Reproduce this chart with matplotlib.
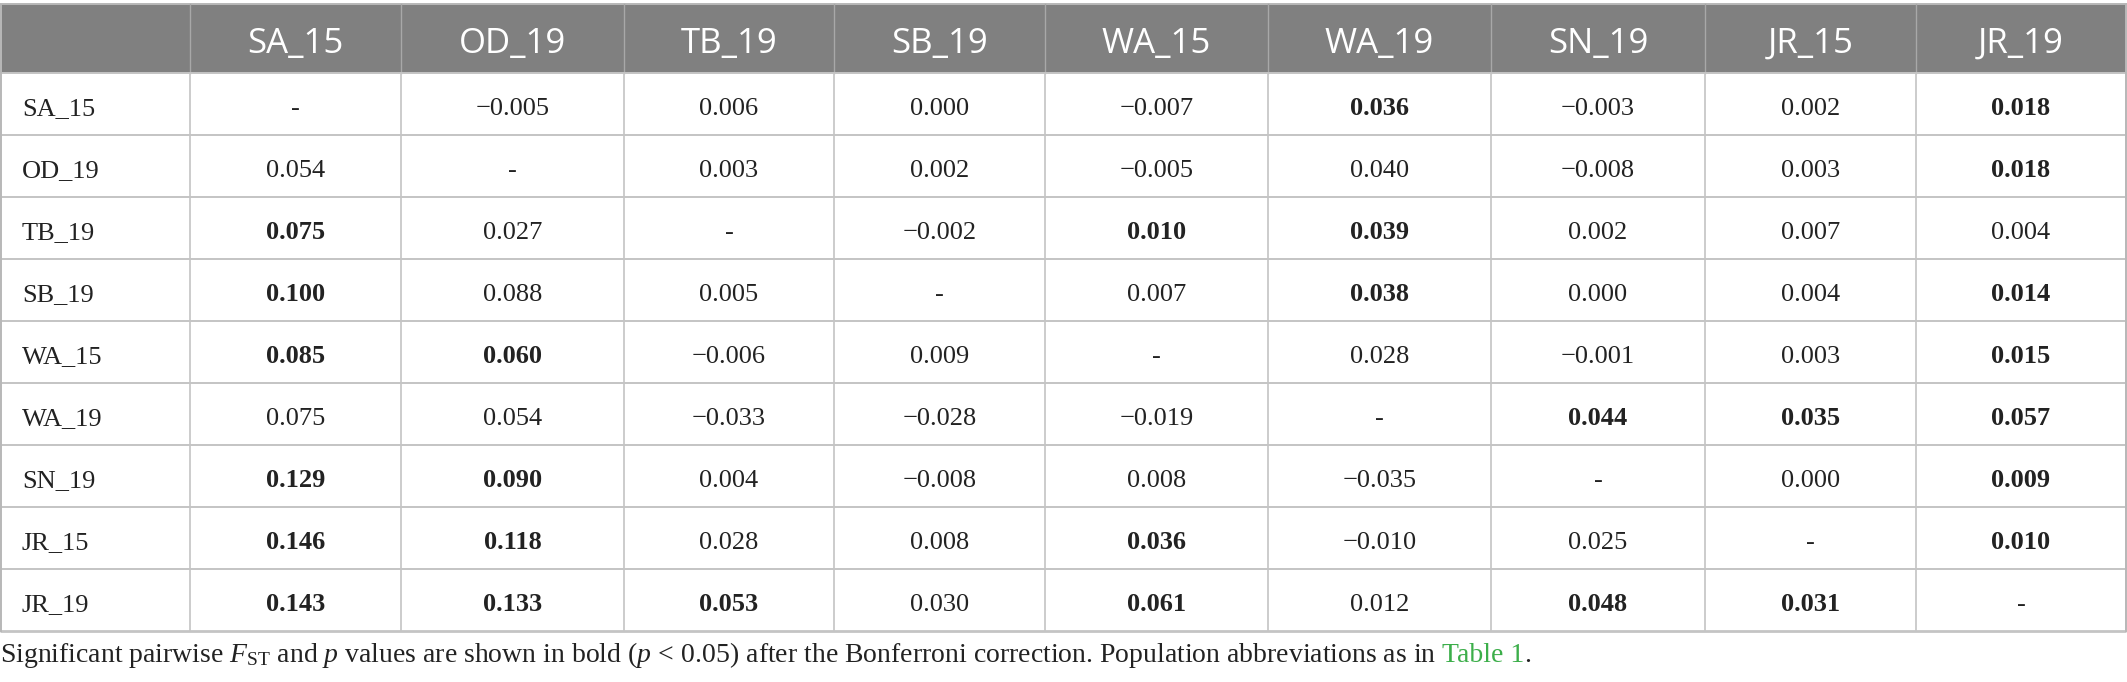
import matplotlib
matplotlib.use("Agg")
import matplotlib.pyplot as plt
from matplotlib.patches import Rectangle

plt.rcParams['mathtext.fontset'] = 'custom'
plt.rcParams['mathtext.rm'] = 'Liberation Serif'
plt.rcParams['mathtext.it'] = 'Liberation Serif:italic'

# ---------------- data ----------------
populations = ["SA_15", "OD_19", "TB_19", "SB_19", "WA_15", "WA_19", "SN_19", "JR_15", "JR_19"]

row_SA_15 = ["-", "\u22120.005", "0.006", "0.000", "\u22120.007", "0.036", "\u22120.003", "0.002", "0.018"]
row_OD_19 = ["0.054", "-", "0.003", "0.002", "\u22120.005", "0.040", "\u22120.008", "0.003", "0.018"]
row_TB_19 = ["0.075", "0.027", "-", "\u22120.002", "0.010", "0.039", "0.002", "0.007", "0.004"]
row_SB_19 = ["0.100", "0.088", "0.005", "-", "0.007", "0.038", "0.000", "0.004", "0.014"]
row_WA_15 = ["0.085", "0.060", "\u22120.006", "0.009", "-", "0.028", "\u22120.001", "0.003", "0.015"]
row_WA_19 = ["0.075", "0.054", "\u22120.033", "\u22120.028", "\u22120.019", "-", "0.044", "0.035", "0.057"]
row_SN_19 = ["0.129", "0.090", "0.004", "\u22120.008", "0.008", "\u22120.035", "-", "0.000", "0.009"]
row_JR_15 = ["0.146", "0.118", "0.028", "0.008", "0.036", "\u22120.010", "0.025", "-", "0.010"]
row_JR_19 = ["0.143", "0.133", "0.053", "0.030", "0.061", "0.012", "0.048", "0.031", "-"]

# 1 = significant (bold)
bold_SA_15 = [0, 0, 0, 0, 0, 1, 0, 0, 1]
bold_OD_19 = [0, 0, 0, 0, 0, 0, 0, 0, 1]
bold_TB_19 = [1, 0, 0, 0, 1, 1, 0, 0, 0]
bold_SB_19 = [1, 0, 0, 0, 0, 1, 0, 0, 1]
bold_WA_15 = [1, 1, 0, 0, 0, 0, 0, 0, 1]
bold_WA_19 = [0, 0, 0, 0, 0, 0, 1, 1, 1]
bold_SN_19 = [1, 1, 0, 0, 0, 0, 0, 0, 1]
bold_JR_15 = [1, 1, 0, 0, 1, 0, 0, 0, 1]
bold_JR_19 = [1, 1, 1, 0, 1, 0, 1, 1, 0]

rows = [row_SA_15, row_OD_19, row_TB_19, row_SB_19, row_WA_15,
        row_WA_19, row_SN_19, row_JR_15, row_JR_19]
bolds = [bold_SA_15, bold_OD_19, bold_TB_19, bold_SB_19, bold_WA_15,
         bold_WA_19, bold_SN_19, bold_JR_15, bold_JR_19]

footnote_main = (r"Significant pairwise $F_{\mathrm{ST}}$ and $p$ values are shown in bold "
                 r"($p\,<\,0.05$) after the Bonferroni correction. Population abbreviations as in")
footnote_link = "Table 1"

# ---------------- layout (pixels) ----------------
W, H = 2127, 682
col_edges = [0, 190, 401, 624, 834, 1045, 1268, 1491, 1705, 1916, 2126]
header_top, header_bot = 4, 73
row_h = 62.0
table_bot = header_bot + row_h * len(rows)

header_color = "#808080"
line_color = "#c4c4c4"
serif = "Liberation Serif"
sans = "Open Sans"
foot_fs = 20

fig = plt.figure(figsize=(W / 100, H / 100), dpi=100)
ax = fig.add_axes([0, 0, 1, 1])
ax.set_xlim(0, W)
ax.set_ylim(H, 0)
ax.axis("off")

# header band
ax.add_patch(Rectangle((col_edges[0], header_top), col_edges[-1] - col_edges[0],
                       header_bot - header_top, facecolor=header_color, edgecolor="none"))
ax.plot([col_edges[0], col_edges[-1]], [header_top, header_top], color="#b8b8b8", lw=1.4)
for x in col_edges[1:-1]:
    ax.plot([x, x], [header_top, header_bot], color="#a8a8a8", lw=1.0)

# header labels
for j, name in enumerate(populations):
    xc = (col_edges[j + 1] + col_edges[j + 2]) / 2
    ax.text(xc, header_bot - 20, name, ha="center", va="baseline",
            fontsize=25, family=sans, color="white")

# grid lines body
for i in range(len(rows) + 1):
    y = header_bot + i * row_h
    lw = 2.0 if i == len(rows) else 1.4
    ax.plot([col_edges[0], col_edges[-1]], [y, y], color=line_color, lw=lw, solid_capstyle="butt")
for x in col_edges:
    ax.plot([x, x], [header_bot, table_bot], color=line_color, lw=1.2)
ax.plot([col_edges[0] + 0.5, col_edges[0] + 0.5], [header_top, table_bot], color="#b8b8b8", lw=1.4)
ax.plot([col_edges[-1], col_edges[-1]], [header_top, table_bot], color="#b8b8b8", lw=1.4)

# body text
for i, (vals, bl) in enumerate(zip(rows, bolds)):
    yb = header_bot + i * row_h + 42
    ax.text(22, yb, populations[i], ha="left", va="baseline",
            fontsize=19, family=serif, color="#222222")
    for j, (v, b) in enumerate(zip(vals, bl)):
        xc = (col_edges[j + 1] + col_edges[j + 2]) / 2
        ax.text(xc, yb, v, ha="center", va="baseline", fontsize=19, family=serif,
                fontweight="bold" if b else "normal", color="#222222")

# footnote
t1 = ax.text(0, 662, footnote_main, ha="left", va="baseline", fontsize=foot_fs,
             family=serif, color="#222222")
fig.canvas.draw()
r = fig.canvas.get_renderer()
bb = t1.get_window_extent(renderer=r)
x_data = ax.transData.inverted().transform((bb.x1, 0))[0] + 6
t2 = ax.text(x_data, 662, footnote_link, ha="left", va="baseline", fontsize=foot_fs,
             family=serif, color="#3cae4a")
fig.canvas.draw()
bb2 = t2.get_window_extent(renderer=r)
x2 = ax.transData.inverted().transform((bb2.x1, 0))[0]
ax.text(x2, 662, ".", ha="left", va="baseline", fontsize=foot_fs, family=serif, color="#222222")

fig.savefig("out.png", dpi=100)
